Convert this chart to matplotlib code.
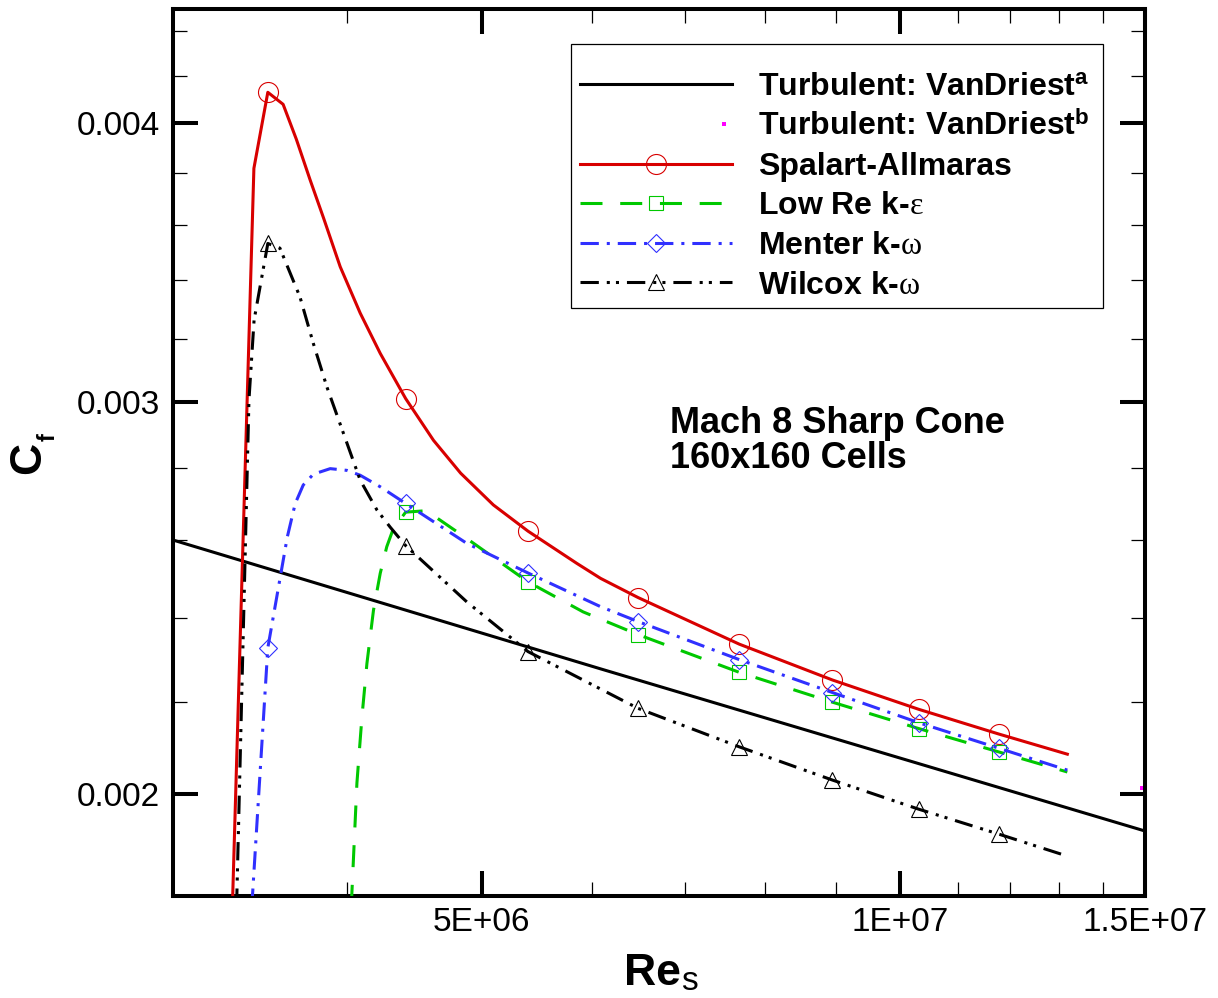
import matplotlib
matplotlib.use('Agg')
import matplotlib.pyplot as plt
from matplotlib.lines import Line2D
from matplotlib.patches import Rectangle
from matplotlib.legend_handler import HandlerBase
from matplotlib.ticker import FixedLocator, FixedFormatter, NullFormatter

plt.rcParams['font.family'] = ['Liberation Sans', 'DejaVu Sans']
plt.rcParams['mathtext.fontset'] = 'custom'
plt.rcParams['mathtext.rm'] = 'Liberation Serif'
plt.rcParams['mathtext.bf'] = 'Liberation Sans:bold'
plt.rcParams['mathtext.sf'] = 'Liberation Sans'
plt.rcParams['mathtext.it'] = 'Liberation Serif:italic'

# ---------------- data ----------------
vd_a_re = [3.0e6, 6.09e6, 1.5e7]
vd_a_cf = [0.00260, 0.002276, 0.001925]

vd_b_re = [1.493e7]
vd_b_cf = [0.002012]

sa_re = [3.31e6, 3.43e6, 3.51e6, 3.60e6, 3.68e6, 3.765e6, 3.85e6, 3.957e6, 4.09e6, 4.228e6,
         4.41e6, 4.618e6, 4.83e6, 5.099e6, 5.40e6, 5.855e6, 6.09e6, 6.48e6, 7.66e6, 8.94e6,
         1.031e7, 1.177e7, 1.319e7]
sa_cf = [0.00178, 0.003817, 0.004129, 0.004078, 0.003933, 0.003771, 0.003625, 0.003448,
         0.003287, 0.003153, 0.003009, 0.002882, 0.002786, 0.002696, 0.002624, 0.002538,
         0.002499, 0.002450, 0.002335, 0.002250, 0.002183, 0.002128, 0.002084]
sa_marks = [2, 10, 14, 17, 18, 19, 20, 21]

lr_re = [4.030e6, 4.068e6, 4.102e6, 4.136e6, 4.181e6, 4.228e6, 4.274e6, 4.321e6, 4.41e6,
         4.564e6, 4.880e6, 5.40e6, 5.916e6, 6.48e6, 7.66e6, 8.94e6, 1.031e7, 1.177e7, 1.319e7]
lr_cf = [0.00178, 0.002023, 0.002166, 0.002289, 0.002418, 0.002512, 0.002582, 0.002631,
         0.002676, 0.002680, 0.002604, 0.002490, 0.002414, 0.002358, 0.002268, 0.002199,
         0.002140, 0.002089, 0.002046]
lr_marks = [8, 11, 13, 14, 15, 16, 17]

mk_re = [3.418e6, 3.51e6, 3.625e6, 3.673e6, 3.722e6, 3.785e6, 3.892e6, 4.001e6, 4.09e6,
         4.228e6, 4.41e6, 4.880e6, 5.40e6, 6.09e6, 6.48e6, 7.66e6, 8.94e6, 1.031e7,
         1.177e7, 1.319e7]
mk_cf = [0.00178, 0.002326, 0.002608, 0.002700, 0.002752, 0.002783, 0.002799, 0.002794,
         0.002780, 0.002747, 0.002700, 0.002591, 0.002513, 0.002427, 0.002390, 0.002298,
         0.002221, 0.002153, 0.002097, 0.002050]
mk_marks = [1, 10, 12, 14, 15, 16, 17, 18]

wk_re = [3.333e6, 3.402e6, 3.431e6, 3.51e6, 3.581e6, 3.702e6, 3.785e6, 3.871e6, 3.979e6,
         4.09e6, 4.205e6, 4.298e6, 4.41e6, 4.880e6, 5.40e6, 6.48e6, 7.66e6, 8.94e6,
         1.031e7, 1.177e7, 1.318e7]
wk_cf = [0.00178, 0.003004, 0.003263, 0.003532, 0.003515, 0.003342, 0.003185, 0.003045,
         0.002902, 0.002766, 0.002682, 0.002635, 0.002585, 0.002439, 0.002317, 0.002185,
         0.002100, 0.002029, 0.001969, 0.001919, 0.001876]
wk_marks = [3, 12, 14, 15, 16, 17, 18, 19]

x_major = [5e6, 1e7, 1.5e7]
x_major_labels = ['5E+06', '1E+07', '1.5E+07']
x_minor = [4e6, 6e6, 7e6, 8e6, 9e6, 1.1e7, 1.2e7, 1.3e7, 1.4e7]
y_major = [0.002, 0.003, 0.004]
y_major_labels = ['0.002', '0.003', '0.004']
y_minor = [0.0022, 0.0024, 0.0026, 0.0028, 0.0032, 0.0034, 0.0036, 0.0038, 0.0042, 0.0044]

labels = [r'Turbulent: VanDriest$^\mathbf{a}$',
          r'Turbulent: VanDriest$^\mathbf{b}$',
          'Spalart-Allmaras',
          r'Low Re k-$\mathrm{\varepsilon}$',
          r'Menter k-$\mathrm{\omega}$',
          r'Wilcox k-$\mathrm{\omega}$']

# ---------------- styles ----------------
RED = '#D80000'
GREEN = '#00C800'
BLUE = '#3030FF'
LW = 2.2
ls_green = (0, (7.2, 5.8))
ls_blue = (0, (6.0, 2.6, 1.0, 2.6))
ls_black = (0, (6.0, 2.6, 1.0, 2.0, 1.0, 2.6))

fig = plt.figure(figsize=(12.18, 9.98), dpi=100)
ax = fig.add_axes([173 / 1218, (998 - 896) / 998, 972 / 1218, 887 / 998])
ax.set_xscale('log')
ax.set_yscale('log')

ax.plot(vd_a_re, vd_a_cf, color='black', lw=LW, zorder=2)
ax.plot(vd_b_re, vd_b_cf, ls='None', marker='s', ms=2.8, mew=0, color='magenta', zorder=2)
ax.plot(sa_re, sa_cf, color=RED, lw=LW, marker='o', ms=14.4, mfc='none', mec=RED,
        mew=0.8, markevery=sa_marks, zorder=3)
ax.plot(lr_re, lr_cf, color=GREEN, lw=LW, ls=ls_green, marker='s', ms=10, mfc='none',
        mec=GREEN, mew=0.8, markevery=lr_marks, zorder=3)
ax.plot(mk_re, mk_cf, color=BLUE, lw=LW, ls=ls_blue, marker='D', ms=9.6, mfc='none',
        mec=BLUE, mew=0.8, markevery=mk_marks, zorder=3)
ax.plot(wk_re, wk_cf, color='black', lw=LW, ls=ls_black, marker='^', ms=12, mfc='none',
        mec='black', mew=0.8, markevery=wk_marks, zorder=3)

ax.set_xlim(3e6, 1.5e7)
ax.set_ylim(0.0018, 0.0045)

ax.xaxis.set_major_locator(FixedLocator(x_major))
ax.xaxis.set_major_formatter(FixedFormatter(x_major_labels))
ax.xaxis.set_minor_locator(FixedLocator(x_minor))
ax.xaxis.set_minor_formatter(NullFormatter())
ax.yaxis.set_major_locator(FixedLocator(y_major))
ax.yaxis.set_major_formatter(FixedFormatter(y_major_labels))
ax.yaxis.set_minor_locator(FixedLocator(y_minor))
ax.yaxis.set_minor_formatter(NullFormatter())

ax.tick_params(which='both', direction='in', top=True, right=True, colors='black')
ax.tick_params(which='major', length=18, width=2.9, labelsize=24)
ax.tick_params(which='minor', length=10, width=0.9)
ax.tick_params(axis='x', which='major', pad=7.7)
ax.tick_params(axis='y', which='major', pad=9.5)
for s in ax.spines.values():
    s.set_linewidth(2.9)

# axis labels
fig.text(29 / 1218, 1 - 458 / 998, 'C', rotation=90, ha='center', va='center',
         fontsize=32, fontweight='bold')
fig.text(48 / 1218, 1 - 437 / 998, 'f', rotation=90, ha='center', va='center',
         fontsize=17, fontweight='bold')
fig.text(652 / 1218, 1 - 985 / 998, 'Re', ha='center', va='baseline',
         fontsize=32, fontweight='bold')
fig.text(689 / 1218, 1 - 990 / 998, 's', ha='center', va='baseline',
         fontsize=24)

# annotation
ax.text((670 - 173) / 972, (896 - 433) / 887, 'Mach 8 Sharp Cone', transform=ax.transAxes,
        fontsize=26, fontweight='bold', ha='left', va='baseline')
ax.text((670 - 173) / 972, (896 - 468) / 887, '160x160 Cells', transform=ax.transAxes,
        fontsize=26, fontweight='bold', ha='left', va='baseline')

# legend
class RightDotHandler(HandlerBase):
    def create_artists(self, legend, orig_handle, xdescent, ydescent, width, height,
                       fontsize, trans):
        x = -xdescent + width * 0.95
        y = (height - ydescent) / 2
        ln = Line2D([x], [y], ls='None', marker=orig_handle.get_marker(),
                    ms=orig_handle.get_markersize(), color=orig_handle.get_color(), mew=0)
        ln.set_transform(trans)
        return [ln]

h_vda = Line2D([], [], color='black', lw=LW)
h_vdb = Line2D([], [], ls='None', marker='s', ms=2.8, mew=0, color='magenta')
h_sa = Line2D([], [], color=RED, lw=LW, marker='o', ms=14.4, mfc='none', mec=RED, mew=0.8)
h_lr = Line2D([], [], color=GREEN, lw=LW, ls=ls_green, marker='s', ms=10, mfc='none',
              mec=GREEN, mew=0.8)
h_mk = Line2D([], [], color=BLUE, lw=LW, ls=ls_blue, marker='D', ms=9.6, mfc='none',
              mec=BLUE, mew=0.8)
h_wk = Line2D([], [], color='black', lw=LW, ls=ls_black, marker='^', ms=12, mfc='none',
              mec='black', mew=0.8)

box = Rectangle(((571 - 173) / 972, (896 - 308) / 887), (1103 - 571) / 972, (308 - 44) / 887,
                transform=ax.transAxes, facecolor='white', edgecolor='black', lw=0.9,
                zorder=4)
ax.add_patch(box)

leg = ax.legend([h_vda, h_vdb, h_sa, h_lr, h_mk, h_wk], labels,
                handler_map={h_vdb: RightDotHandler()},
                loc='upper left', bbox_to_anchor=((580 - 173) / 972, (896 - 72) / 887),
                frameon=False, borderpad=0, borderaxespad=0,
                handlelength=4.76, handletextpad=0.8, labelspacing=0.30,
                prop={'weight': 'bold', 'size': 23})
leg.set_zorder(5)

fig.savefig('out.png', dpi=100)
